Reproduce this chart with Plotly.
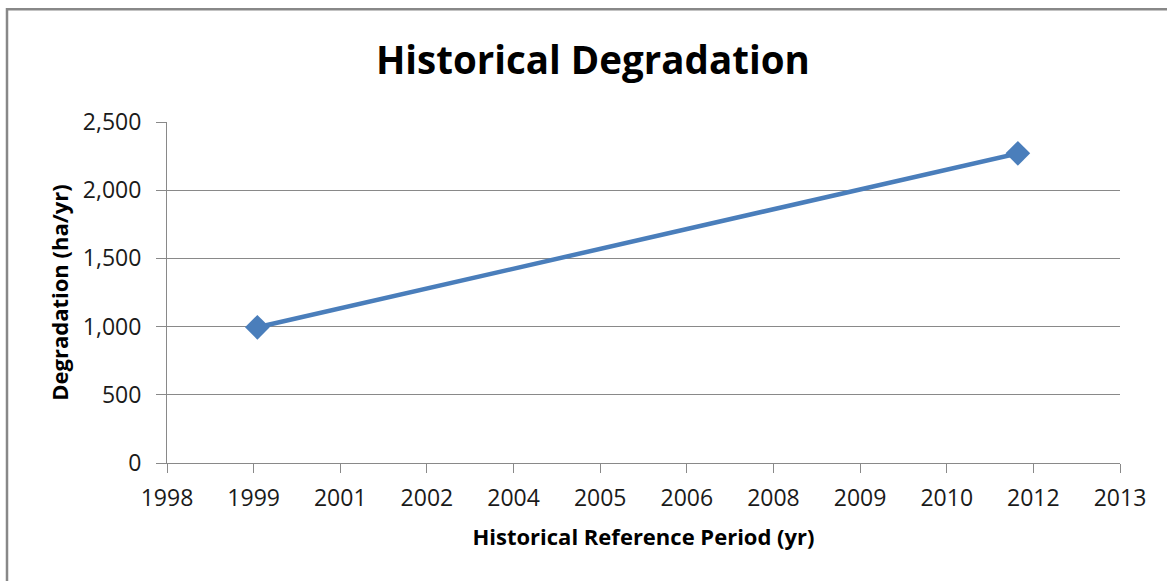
import plotly.graph_objects as go

# Data
years = [1999, 2012]
degradation = [995, 2270]
tick_labels = ["1998", "1999", "2001", "2002", "2004", "2005", "2006",
               "2008", "2009", "2010", "2012", "2013"]
y_ticks = [0, 500, 1000, 1500, 2000, 2500]

# Excel-style date axis: evenly spaced major units
axis_start = 1997.455
axis_step = 1.481
tick_positions = [axis_start + i * axis_step for i in range(len(tick_labels))]

FONT = "Open Sans"
GRID = "#898989"

fig = go.Figure()
fig.add_trace(go.Scatter(
    x=years, y=degradation, mode="lines+markers",
    line=dict(color="#4A7EBB", width=4.5),
    marker=dict(symbol="diamond", size=19, color="#4A7EBB"),
    showlegend=False,
))

fig.update_layout(
    width=1167, height=581,
    paper_bgcolor="white", plot_bgcolor="white",
    margin=dict(l=167, r=47, t=122, b=118),
    title=dict(text="<b>Historical Degradation</b>", x=0.508, xanchor="center",
               y=1 - 61 / 581, yanchor="middle",
               font=dict(family=FONT, size=38.5, color="black")),
    font=dict(family=FONT, color="black"),
    xaxis=dict(
        range=[tick_positions[0], tick_positions[-1]],
        tickmode="array", tickvals=tick_positions, ticktext=tick_labels,
        showgrid=False, zeroline=False,
        showline=True, linecolor=GRID, linewidth=1,
        ticks="outside", ticklen=9, tickcolor=GRID,
        ticklabelstandoff=5,
        tickfont=dict(family=FONT, size=23, color="#1a1a1a"),
        title=dict(text="<b>Historical Reference Period (yr)</b>",
                   font=dict(family=FONT, size=22, color="black"), standoff=18),
    ),
    yaxis=dict(
        range=[0, 2500], tickmode="array", tickvals=y_ticks,
        tickformat=",", showgrid=True, gridcolor=GRID, gridwidth=1,
        zeroline=False, showline=True, linecolor=GRID, linewidth=1,
        ticks="outside", ticklen=10, tickcolor=GRID,
        ticklabelstandoff=10,
        tickfont=dict(family=FONT, size=23, color="#1a1a1a"),
        title=dict(text="<b>Degradation (ha/yr)</b>",
                   font=dict(family=FONT, size=22, color="black"), standoff=8),
    ),
    shapes=[dict(
        type="rect", xref="paper", yref="paper",
        x0=(7 - 167) / 953, x1=1.2, y0=-0.5, y1=(463.3 - 10) / 340.6,
        line=dict(color="#888888", width=2.5), fillcolor="rgba(0,0,0,0)",
        layer="below",
    )],
)

fig.write_html("out.html", config={"displayModeBar": False},
               post_script="document.body.style.margin='0';")
